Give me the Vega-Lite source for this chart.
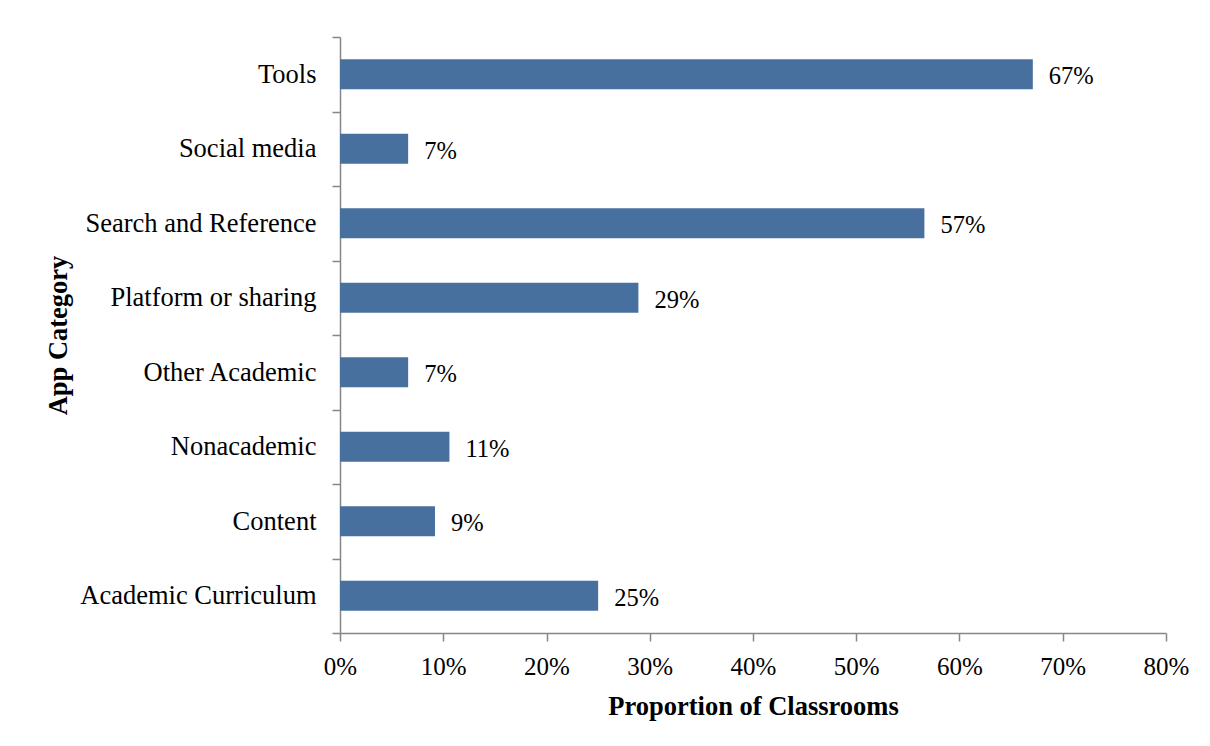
{
  "$schema": "https://vega.github.io/schema/vega-lite/v6.json",
  "autosize": "none",
  "width": 826,
  "height": 596,
  "padding": {"left": 340, "top": 37, "right": 44, "bottom": 113},
  "background": "white",
  "config": {
    "font": "Liberation Serif",
    "view": {"stroke": null},
    "axis": {
      "labelFont": "Liberation Serif",
      "titleFont": "Liberation Serif",
      "labelColor": "black",
      "titleColor": "black",
      "domainColor": "#868686",
      "tickColor": "#868686",
      "domainWidth": 1.5,
      "tickWidth": 1.5,
      "tickSize": 8,
      "grid": false
    }
  },
  "data": {
    "values": [
      {"category": "Tools", "value": 0.671},
      {"category": "Social media", "value": 0.066},
      {"category": "Search and Reference", "value": 0.566},
      {"category": "Platform or sharing", "value": 0.289},
      {"category": "Other Academic", "value": 0.066},
      {"category": "Nonacademic", "value": 0.106},
      {"category": "Content", "value": 0.092},
      {"category": "Academic Curriculum", "value": 0.25}
    ]
  },
  "encoding": {
    "y": {
      "field": "category",
      "type": "nominal",
      "sort": null,
      "scale": {"paddingInner": 0, "paddingOuter": 0},
      "axis": {
        "title": "App Category",
        "titleFontSize": 26.5,
        "titleFontWeight": "bold",
        "titleX": -282,
        "titleBaseline": "middle",
        "labelFontSize": 26.5,
        "labelPadding": 16,
        "labelLimit": 400,
        "ticks": true,
        "tickBand": "extent",
        "tickExtra": true
      }
    },
    "x": {
      "field": "value",
      "type": "quantitative",
      "scale": {"domain": [0, 0.8], "nice": false},
      "axis": {
        "title": "Proportion of Classrooms",
        "titleFontSize": 26.5,
        "titleFontWeight": "bold",
        "titlePadding": 14,
        "labelFontSize": 25,
        "labelPadding": 13,
        "labelFlush": false,
        "format": ".0%",
        "values": [0, 0.1, 0.2, 0.3, 0.4, 0.5, 0.6, 0.7, 0.8]
      }
    }
  },
  "layer": [
    {"mark": {"type": "bar", "color": "#47709e", "height": {"band": 0.4}}},
    {
      "mark": {"type": "text", "align": "left", "dx": 16, "dy": 3, "fontSize": 24.5, "font": "Liberation Serif", "color": "black"},
      "encoding": {"text": {"field": "value", "type": "quantitative", "format": ".0%"}}
    }
  ]
}
